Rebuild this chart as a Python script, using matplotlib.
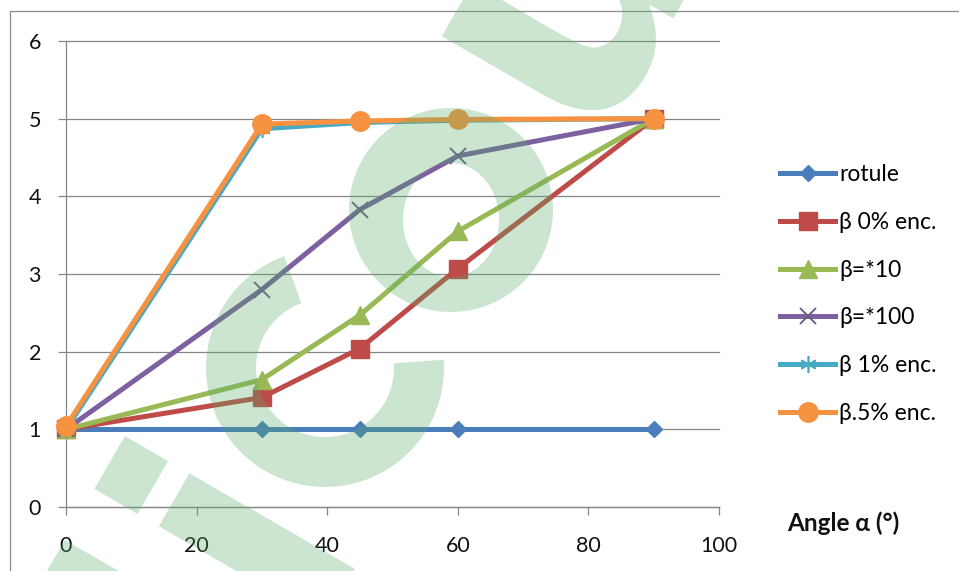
import numpy as np
import matplotlib
matplotlib.use("Agg")
import matplotlib.pyplot as plt
from matplotlib.patches import PathPatch, Rectangle, Wedge
from matplotlib.path import Path
from matplotlib.textpath import TextPath
from matplotlib.font_manager import FontProperties
from matplotlib.transforms import Affine2D

plt.rcParams["font.family"] = ["Lato", "DejaVu Sans"]

# --- data -------------------------------------------------------------
angles = [0, 30, 45, 60, 90]
rotule = [1.0, 1.0, 1.0, 1.0, 1.0]
beta_0 = [1.0, 1.41, 2.04, 3.07, 5.0]
beta_10 = [1.0, 1.64, 2.47, 3.55, 5.0]
beta_100 = [1.0, 2.80, 3.83, 4.52, 5.0]
beta_1 = [1.0, 4.87, 4.95, 4.98, 5.0]
beta_05 = [1.04, 4.93, 4.97, 4.99, 5.0]
series_labels = ["rotule", "β 0% enc.", "β=*10", "β=*100", "β 1% enc.", "β.5% enc."]
x_ticks = [0, 20, 40, 60, 80, 100]
y_ticks = [0, 1, 2, 3, 4, 5, 6]
x_title = "Angle α (°)"

W, H = 959, 571
fig = plt.figure(figsize=(W / 100, H / 100), dpi=100)

# chart-area frame
fig.add_artist(Rectangle((10 / W, -0.1), 2.0, 1 - 11 / H + 0.1,
                         transform=fig.transFigure, fill=False,
                         edgecolor="#8c8c8c", lw=0.9))

ax = fig.add_axes([66 / W, (H - 507) / H, (719 - 66) / W, (507 - 41) / H])
ax.set_xlim(0, 100)
ax.set_ylim(0, 6)

grid_col = "#868686"
for y in y_ticks:
    ax.axhline(y, color=grid_col, lw=0.9, zorder=0.5, clip_on=False)

for s in ["top", "right"]:
    ax.spines[s].set_visible(False)
for s in ["left", "bottom"]:
    ax.spines[s].set_color(grid_col)
    ax.spines[s].set_linewidth(0.9)

ax.set_xticks(x_ticks)
ax.set_yticks(y_ticks)
ax.tick_params(axis="both", direction="out", length=6, width=0.9,
               color=grid_col, labelsize=15.5, labelcolor="#111111")
ax.tick_params(axis="y", pad=12)
ax.tick_params(axis="x", pad=15)

styles = [
    dict(color="#4A7EBB", marker="D", ms=8.5),
    dict(color="#BE4B48", marker="s", ms=13),
    dict(color="#98B954", marker="^", ms=13.5),
    dict(color="#7D60A0", marker="x", ms=12, mew=1.4, mec="#6A5F86"),
    dict(color="#46AAC5", marker=(6, 2, 0), ms=12, mew=1.2),
    dict(color="#F69240", marker="o", ms=14),
]
series = [rotule, beta_0, beta_10, beta_100, beta_1, beta_05]
handles = []
for i, (vals, st, lab) in enumerate(zip(series, styles, series_labels)):
    ln, = ax.plot(angles, vals, lw=3.6, label=lab, zorder=3 + i,
                  clip_on=False, solid_joinstyle="round", **st)
    handles.append(ln)

fig.legend(handles, series_labels, loc="upper left",
           bbox_to_anchor=(780 / W, 1 - 164 / H), frameon=False,
           fontsize=16.5, handlelength=2.4, handletextpad=0.17,
           labelspacing=1.17, borderpad=0, borderaxespad=0)

fig.text(843 / W, 1 - 523 / H, x_title, ha="center", va="center",
         fontsize=17.5, fontweight="bold", color="#111111")

# --- site watermark ------------------------------------------------------
ov = fig.add_axes([0, 0, 1, 1])
ov.set_xlim(0, W)
ov.set_ylim(0, H)
ov.axis("off")
ov.set_zorder(10)
wm_color = "#58AC69"
wm_alpha = 0.3

fp = FontProperties(family="DejaVu Sans", weight="bold")
S = 350
wm_text = "clicours.com"


def ext(s):
    return TextPath((0, 0), s, size=S, prop=fp).get_extents()


tp = TextPath((0, 0), wm_text, size=S, prop=fp)
ext_o = ext("o")
ocx = ext("clico").x1 - ext_o.width / 2
ocy = ext_o.y0 + ext_o.height / 2
base = Affine2D().translate(-ocx, -ocy).rotate_deg(60).translate(451, H - 212)

# keep the glyph outlines except the round "c" and "o", drawn below as rings
codes, verts = tp.codes, tp.vertices
starts = [k for k, c in enumerate(codes) if c == Path.MOVETO] + [len(codes)]
skip_lo, skip_hi = ext("cli").x1, ext("clico").x1
pieces = []
for a, b in zip(starts[:-1], starts[1:]):
    xc = 0.5 * (verts[a:b, 0].min() + verts[a:b, 0].max())
    if not (skip_lo < xc <= skip_hi):
        pieces.append(base.transform_path(Path(verts[a:b], codes[a:b])))
ov.add_patch(PathPatch(Path.make_compound_path(*pieces), facecolor=wm_color,
                       edgecolor="none", alpha=wm_alpha))

# "c"
ov.add_patch(Wedge((325, H - 368), 119, 110, 364, width=50,
                   facecolor=wm_color, edgecolor="none", alpha=wm_alpha))

# "o": round outline with an oval counter
t = np.linspace(0, 2 * np.pi, 120)
outer = np.column_stack([451 + 102 * np.cos(t), H - 210 + 102 * np.sin(t)])
inner = np.column_stack([451 + 48 * np.cos(-t), H - 220 + 57 * np.sin(-t)])
ring = Path.make_compound_path(Path(outer, closed=True), Path(inner, closed=True))
ov.add_patch(PathPatch(ring, facecolor=wm_color, edgecolor="none", alpha=wm_alpha))

fig.savefig("out.png", dpi=100)
